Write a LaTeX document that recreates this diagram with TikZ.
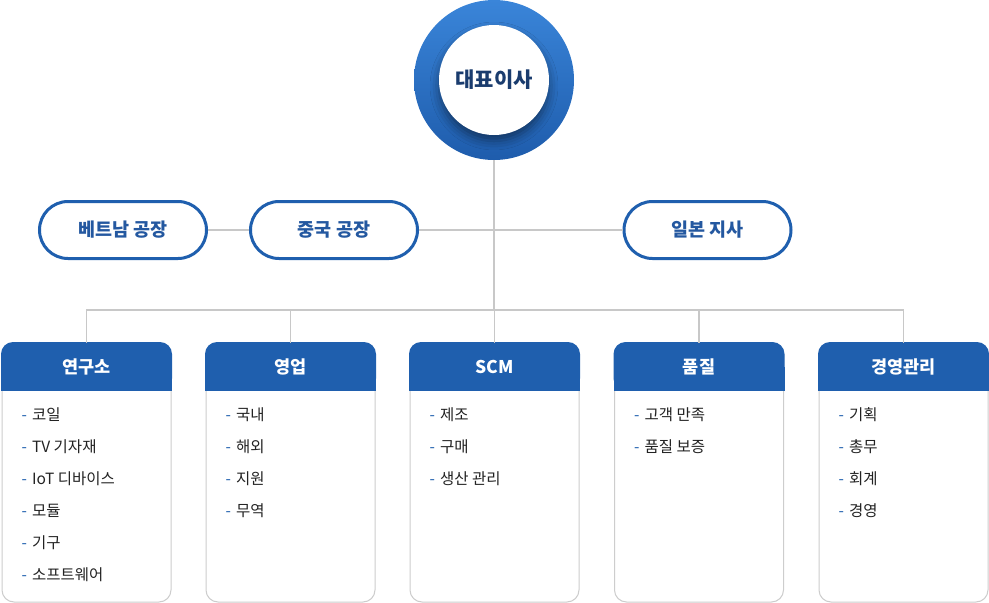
\documentclass[tikz,border=0pt]{standalone}
\usepackage{fontspec}
\setmainfont{Noto Sans CJK KR}
\usetikzlibrary{positioning,calc,shadows.blur}
\definecolor{hdblue}{RGB}{31,95,174}
\definecolor{pilltext}{RGB}{36,88,160}
\definecolor{ceotext}{RGB}{26,60,110}
\definecolor{ringtop}{RGB}{58,133,217}
\definecolor{ringbot}{RGB}{30,92,172}
\definecolor{linegray}{RGB}{200,200,200}
\definecolor{boxgray}{RGB}{205,205,205}
\definecolor{itemtext}{RGB}{34,34,34}

\begin{document}
\begin{tikzpicture}[x=1pt,y=-1pt,
    line/.style={draw=linegray, line width=1.3pt},
    pill/.style={draw=hdblue, line width=3pt, rounded corners=28.5pt, fill=white,
        minimum width=167pt, minimum height=57pt, inner sep=0pt,
        text=pilltext, font=\fontsize{18.5}{22}\selectfont\bfseries},
    dept/.style={draw=boxgray, line width=1pt, rounded corners=12pt, fill=white,
        minimum width=169pt, minimum height=259pt, inner sep=0pt},
    hdtext/.style={text=white, font=\fontsize{17.5}{20}\selectfont\bfseries},
    item/.style={anchor=west, inner sep=0pt, text=itemtext,
        font=\fontsize{15.5}{18}\selectfont}]
\useasboundingbox (0,0) rectangle (989,603);

\node[circle, minimum size=160pt, top color=ringtop, bottom color=ringbot] (ceoring) at (494,80) {};
\node[circle, fill=white, minimum size=110pt,
    blur shadow={shadow xshift=0pt, shadow yshift=-6pt, shadow blur radius=9pt, shadow opacity=45},
    text=ceotext, font=\fontsize{21}{24}\selectfont\bfseries] (ceo) at (ceoring.center) {대표이사};

\coordinate (hub) at (494,310);
\draw[line] (ceoring) -- (hub);

\node[pill] (vn) at (123,230) {베트남 공장};
\node[pill] (cn) at (334,230) {중국 공장};
\node[pill] (jp) at (707.5,230) {일본 지사};
\draw[line] (vn) -- (cn);
\draw[line] (cn) -- (jp);

\foreach \i/\x/\name/\items in {
    1/86.5/연구소/{코일,TV 기자재,IoT 디바이스,모듈,기구,소프트웨어},
    2/290.5/영업/{국내,해외,지원,무역},
    3/494.5/SCM/{제조,구매,생산 관리},
    4/699/품질/{고객 만족,품질 보증},
    5/903.5/경영관리/{기획,총무,회계,경영}} {
    \node[dept] (d\i) at (\x,472.5) {};
    \fill[hdblue, rounded corners=12pt] ($(d\i.north west)+(-0.5,-0.5)$) rectangle ($(d\i.north east)+(0.5,48)$);
    \fill[hdblue] ($(d\i.north west)+(-0.5,24)$) rectangle ($(d\i.north east)+(0.5,48)$);
    \node[hdtext] (h\i) at ($(d\i.north)+(0,24)$) {\name};
    \foreach \t [count=\k] in \items
        \node[item] (d\i-\k) at ($(d\i.north west)+(20,72+32*\k-32)$)
            {\textcolor{hdblue}{-}\hspace{5pt}\t};
}

\draw[line] (d1.north) |- (hub) -| (d5.north);
\foreach \i in {2,3,4}
    \draw[line] (d\i.north) -- (d\i.north |- hub);

\end{tikzpicture}
\end{document}
